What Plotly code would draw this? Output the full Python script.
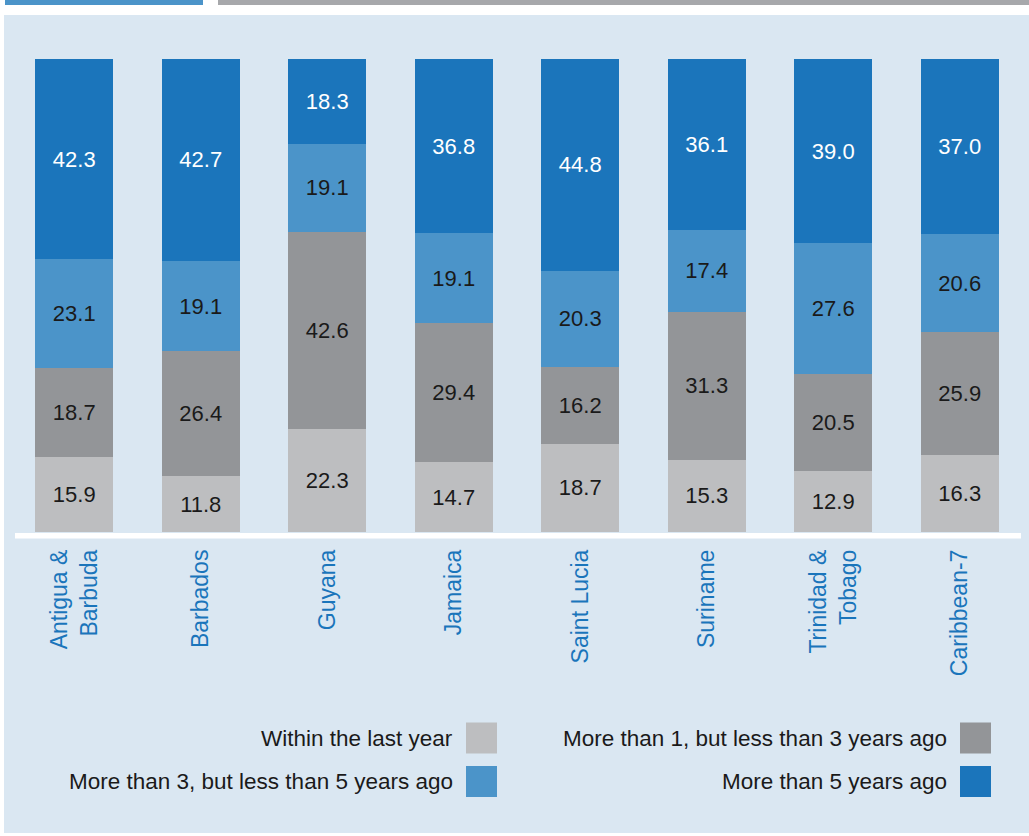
import plotly.graph_objects as go

categories = ["Antigua &<br>Barbuda", "Barbados", "Guyana", "Jamaica",
              "Saint Lucia", "Suriname", "Trinidad &<br>Tobago", "Caribbean-7"]
within_last_year = [15.9, 11.8, 22.3, 14.7, 18.7, 15.3, 12.9, 16.3]
one_to_three = [18.7, 26.4, 42.6, 29.4, 16.2, 31.3, 20.5, 25.9]
three_to_five = [23.1, 19.1, 19.1, 19.1, 20.3, 17.4, 27.6, 20.6]
more_than_five = [42.3, 42.7, 18.3, 36.8, 44.8, 36.1, 39.0, 37.0]

series_names = ["Within the last year", "More than 1, but less than 3 years ago",
                "More than 3, but less than 5 years ago", "More than 5 years ago"]
series_values = [within_last_year, one_to_three, three_to_five, more_than_five]
series_colors = ["#bdbec0", "#939598", "#4b94c9", "#1b75bb"]
text_colors = ["#1a1a1a", "#1a1a1a", "#1a1a1a", "#ffffff"]

W, H = 1029, 836
ML, MR, MT, MB = 11, 6, 59, 304
PW = W - ML - MR
PH = H - MT - MB
FONT = "Liberation Sans, Arial, Helvetica, sans-serif"


def px_x(x):
    return (x - ML) / PW


def px_y(y):
    return (H - MB - y) / PH


fig = go.Figure()
for name, vals, col, tcol in zip(series_names, series_values, series_colors, text_colors):
    fig.add_trace(go.Bar(
        x=categories, y=vals, name=name, marker=dict(color=col, line=dict(width=0)),
        text=vals, texttemplate="%{text:.1f}", textposition="inside",
        insidetextanchor="middle", textangle=0, constraintext="none",
        textfont=dict(family=FONT, size=22, color=tcol),
        showlegend=False, hoverinfo="skip",
    ))

shapes = [
    # background panel
    dict(type="rect", xref="paper", yref="paper", x0=px_x(4), x1=px_x(1029),
         y0=px_y(833), y1=px_y(15), fillcolor="#dae7f2", line=dict(width=0), layer="below"),
    # top decorative bars
    dict(type="rect", xref="paper", yref="paper", x0=px_x(5), x1=px_x(203),
         y0=px_y(5), y1=px_y(0), fillcolor="#4b94c9", line=dict(width=0), layer="below"),
    dict(type="rect", xref="paper", yref="paper", x0=px_x(218), x1=px_x(1029),
         y0=px_y(5), y1=px_y(0), fillcolor="#a7a8ab", line=dict(width=0), layer="below"),
    # white baseline
    dict(type="rect", xref="paper", yref="paper", x0=px_x(15), x1=px_x(1021),
         y0=px_y(538.5), y1=px_y(533), fillcolor="#ffffff", line=dict(width=0), layer="above"),
]

annotations = []
legend_layout = [
    (0, 455, 466, 738),
    (1, 949, 960, 738),
    (2, 455, 466, 781.5),
    (3, 949, 960, 781.5),
]
for idx, tx, sx, cy in legend_layout:
    annotations.append(dict(
        xref="paper", yref="paper", x=px_x(tx), y=px_y(cy), xanchor="right", yanchor="middle",
        text=series_names[idx], showarrow=False,
        font=dict(family=FONT, size=22.5, color="#1a1a1a"),
    ))
    shapes.append(dict(
        type="rect", xref="paper", yref="paper", x0=px_x(sx), x1=px_x(sx + 31),
        y0=px_y(cy + 15.5), y1=px_y(cy - 15.5), fillcolor=series_colors[idx], line=dict(width=0),
    ))

fig.update_layout(
    width=W, height=H, barmode="stack", barnorm="percent", bargap=0.384,
    margin=dict(l=ML, r=MR, t=MT, b=MB, pad=0),
    paper_bgcolor="#ffffff", plot_bgcolor="rgba(0,0,0,0)",
    shapes=shapes, annotations=annotations,
    xaxis=dict(tickangle=-90, showgrid=False, showline=False, zeroline=False, ticks="",
               ticklabelstandoff=12,
               tickfont=dict(family=FONT, size=23, color="#1a75bb")),
    yaxis=dict(range=[0, 100], visible=False, showgrid=False, zeroline=False),
    font=dict(family=FONT),
)

fig.write_html("out.html", config={"displayModeBar": False},
               post_script="document.body.style.margin='0';")
